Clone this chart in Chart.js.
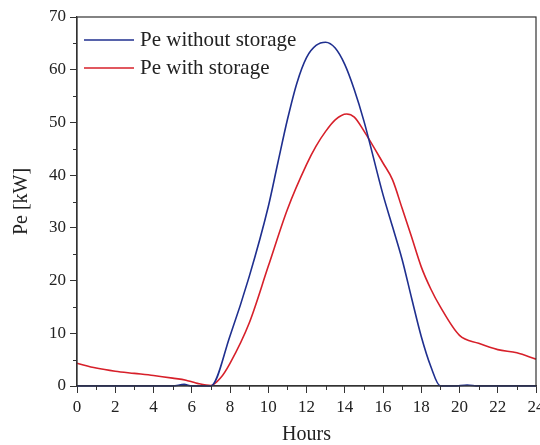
<!DOCTYPE html>
<html>
<head>
<meta charset="utf-8">
<script src="https://cdn.jsdelivr.net/npm/chart.js@4.4.0/dist/chart.umd.min.js"></script>
<style>
    html, body { margin: 0; padding: 0; background: #fff; }
    #wrap { width: 540px; height: 445px; }
</style>
</head>
<body>
<div id="wrap"><canvas id="powerChart" width="540" height="445"></canvas></div>
<script>
// Series
const blueHours = [0, 1, 2, 3, 4, 5, 5.6, 6, 7, 8, 9, 10, 10.5, 11, 11.5, 12, 12.5, 13, 13.5, 14, 14.5, 15, 16, 16.5, 17, 17.5, 18, 18.5, 19, 19.7, 20.4, 21, 22, 23, 24];
const blueValues = [0, 0, 0, 0, 0, 0, 0.3, 0, 0, 9.5, 20.7, 34, 42.3, 50.5, 57.5, 62.3, 64.6, 65.2, 64.1, 61, 56.2, 50.3, 36.3, 30.2, 24, 16.6, 9.4, 3.7, 0, 0, 0.2, 0, 0, 0, 0];

const redHours = [0, 1, 2, 3, 4, 5, 5.7, 6, 6.3, 7, 7.5, 8, 9, 10, 11, 12, 12.5, 13, 13.5, 14.1, 14.5, 15, 16, 16.5, 17, 17.5, 18, 18.5, 19, 20, 21, 22, 23, 24];
const redValues = [4.3, 3.4, 2.8, 2.4, 2.0, 1.5, 1.1, 0.8, 0.5, 0.1, 1.5, 4.3, 11.9, 22.7, 33.5, 42, 45.5, 48.3, 50.5, 51.6, 51, 48.4, 42.3, 39.1, 33.7, 28.2, 22.6, 18.4, 15, 9.6, 8.1, 6.9, 6.3, 5.1];

const seriesLabels = ['Pe without storage', 'Pe with storage'];
const xTitle = 'Hours';
const yTitle = 'Pe [kW]';

const serif = "'Liberation Serif', 'DejaVu Serif', serif";
const ink = '#222';

function toPoints(xs, ys) {
    return xs.map((x, i) => ({ x: x, y: ys[i] }));
}

// frame, minor ticks and the in-plot legend
const decorPlugin = {
    id: 'decor',
    afterDraw(chart) {
        const ctx = chart.ctx;
        const a = chart.chartArea;
        const xs = chart.scales.x;
        const ys = chart.scales.y;
        ctx.save();
        ctx.strokeStyle = '#333';
        ctx.lineWidth = 1.2;
        ctx.strokeRect(a.left, a.top, a.right - a.left, a.bottom - a.top);

        // minor ticks
        ctx.lineWidth = 1;
        ctx.beginPath();
        for (let h = 1; h < 24; h += 2) {
            const px = Math.round(xs.getPixelForValue(h)) + 0.5;
            ctx.moveTo(px, a.bottom);
            ctx.lineTo(px, a.bottom + 4);
        }
        for (let v = 5; v < 70; v += 10) {
            const py = Math.round(ys.getPixelForValue(v)) + 0.5;
            ctx.moveTo(a.left, py);
            ctx.lineTo(a.left - 4, py);
        }
        ctx.stroke();

        // legend
        ctx.font = '21px ' + serif;
        ctx.textBaseline = 'middle';
        chart.data.datasets.forEach((ds, i) => {
            const y = a.top + 23 + i * 28;
            ctx.strokeStyle = ds.borderColor;
            ctx.lineWidth = 1.5;
            ctx.beginPath();
            ctx.moveTo(a.left + 7, y);
            ctx.lineTo(a.left + 57, y);
            ctx.stroke();
            ctx.fillStyle = ink;
            ctx.fillText(ds.label, a.left + 63, y);
        });
        ctx.restore();
    }
};

new Chart(document.getElementById('powerChart'), {
    type: 'line',
    data: {
        datasets: [
            {
                label: seriesLabels[0],
                data: toPoints(blueHours, blueValues),
                borderColor: '#1f2f8f',
                borderWidth: 1.6,
                pointRadius: 0,
                cubicInterpolationMode: 'monotone',
                clip: 3
            },
            {
                label: seriesLabels[1],
                data: toPoints(redHours, redValues),
                borderColor: '#d7202a',
                borderWidth: 1.6,
                pointRadius: 0,
                cubicInterpolationMode: 'monotone',
                clip: 3
            }
        ]
    },
    options: {
        responsive: false,
        animation: false,
        layout: { padding: { top: 17, right: 4, bottom: 0, left: 0 } },
        plugins: {
            legend: { display: false },
            tooltip: { enabled: false }
        },
        scales: {
            x: {
                type: 'linear',
                min: 0,
                max: 24,
                grid: { drawOnChartArea: false, tickLength: 7, tickColor: '#333' },
                border: { color: '#333', width: 1.2 },
                ticks: { stepSize: 2, color: ink, padding: 4, font: { family: serif, size: 17 }, maxRotation: 0 },
                title: { display: true, text: xTitle, color: ink, font: { family: serif, size: 20, lineHeight: 1 }, padding: { top: 0, bottom: 0 } },
                afterFit: (s) => { s.height = 59; s.paddingRight = 0; s.paddingLeft = 0; }
            },
            y: {
                min: 0,
                max: 70,
                grid: { drawOnChartArea: false, tickLength: 7, tickColor: '#333' },
                border: { color: '#333', width: 1.2 },
                ticks: { stepSize: 10, color: ink, padding: 4, font: { family: serif, size: 17 } },
                title: { display: true, text: yTitle, color: ink, font: { family: serif, size: 20, lineHeight: 1.2 }, padding: { top: 10, bottom: 0 } },
                afterFit: (s) => { s.width = 77; s.paddingTop = 0; s.paddingBottom = 0; }
            }
        }
    },
    plugins: [decorPlugin]
});
</script>
</body>
</html>
